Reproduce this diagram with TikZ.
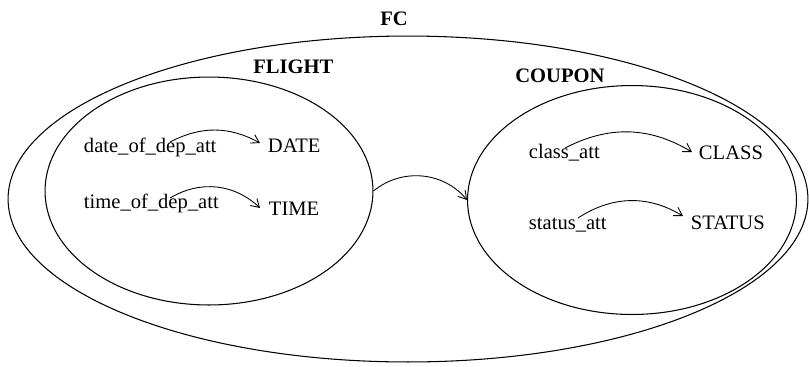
\documentclass[tikz,border=0pt]{standalone}
\usepackage{fontspec}
\setmainfont{Liberation Serif}
\usetikzlibrary{arrows.meta,shapes.geometric}

\tikzset{
  set/.style={ellipse,draw,line width=0.6pt,inner sep=0pt},
  setname/.style={anchor=base west,inner sep=0pt,font=\fontsize{11.7}{14}\selectfont\bfseries},
  attr/.style={anchor=base west,inner sep=1.5pt,font=\fontsize{11.7}{14}\selectfont},
  map/.style={-{Straight Barb[length=4.5pt,width=5.5pt]},line width=0.5pt}
}

\begin{document}
\begin{tikzpicture}[x=0.02cm,y=-0.02cm]
  \useasboundingbox (0,0) rectangle (809,366);

  % the three sets
  \node[set,minimum width=16cm,minimum height=6.52cm] (fc) at (408,199) {};
  \node[set,minimum width=6.56cm,minimum height=4.56cm] (flight) at (209,191) {};
  \node[set,minimum width=6.58cm,minimum height=4.58cm] (coupon) at (632,200) {};

  \node[setname] (fcname) at (380,25) {FC};
  \node[setname] (flightname) at (253,73) {FLIGHT};
  \node[setname] (couponname) at (515,82) {COUPON};

  % FLIGHT attributes
  \node[attr] (dda) at (81,152) {date\_of\_dep\_att};
  \node[attr] (date) at (265,152) {DATE};
  \node[attr] (tda) at (81,208) {time\_of\_dep\_att};
  \node[attr] (time) at (266,215) {TIME};

  % COUPON attributes
  \node[attr] (ca) at (526,158) {class\_att};
  \node[attr] (class) at (696,159) {CLASS};
  \node[attr] (sa) at (526,229) {status\_att};
  \node[attr] (status) at (688,229) {STATUS};

  \draw[map] ([shift={(89,-10)}]dda.base west) to[bend left=28] ([shift={(-5,-9)}]date.base west);
  \draw[map] ([shift={(89,-10)}]tda.base west) to[bend left=37] ([shift={(-6,-7)}]time.base west);
  \draw[map] ([shift={(39,-10)}]ca.base west) to[bend left=29] ([shift={(-4,-7)}]class.base west);
  \draw[map] ([shift={(52,-11)}]sa.base west) to[bend left=32] ([shift={(-5,-13)}]status.base west);

  \draw[map] (flight.east) to[bend left=45] (coupon.west);
\end{tikzpicture}
\end{document}
